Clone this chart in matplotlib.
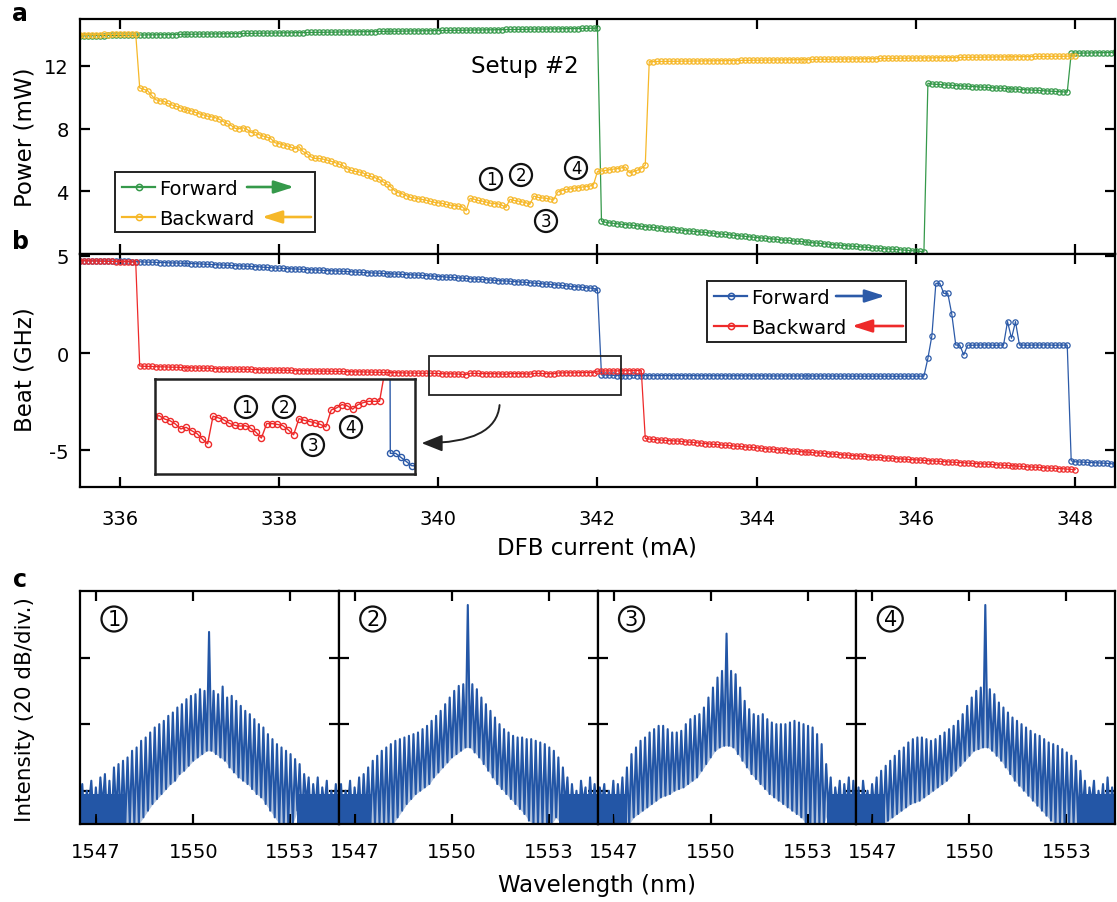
import numpy as np
import matplotlib
matplotlib.use('Agg')
import matplotlib.pyplot as plt
from matplotlib.patches import Rectangle, FancyArrowPatch
from matplotlib.lines import Line2D

plt.rcParams['font.family'] = ['DejaVu Sans']
plt.rcParams['font.size'] = 14

# ------------------------------------------------------------------ data
STEP = 0.05  # DFB current step (mA)

# (a) Forward optical power (mW)
pf_starts = [335.5, 342.05, 346.15, 347.95]
pf_vals = [
    [13.92, 13.92, 13.93, 13.93, 13.94, 13.94, 13.94, 13.95, 13.95, 13.95,
     13.96, 13.96, 13.97, 13.97, 13.97, 13.98, 13.98, 13.99, 13.99, 13.99,
     14.00, 14.00, 14.00, 14.01, 14.01, 14.02, 14.02, 14.02, 14.03, 14.03,
     14.04, 14.04, 14.04, 14.05, 14.05, 14.05, 14.06, 14.06, 14.07, 14.07,
     14.07, 14.08, 14.08, 14.08, 14.09, 14.09, 14.10, 14.10, 14.10, 14.11,
     14.11, 14.12, 14.12, 14.12, 14.13, 14.13, 14.13, 14.14, 14.14, 14.15,
     14.15, 14.15, 14.16, 14.16, 14.16, 14.17, 14.17, 14.18, 14.18, 14.18,
     14.19, 14.19, 14.19, 14.20, 14.20, 14.21, 14.21, 14.21, 14.22, 14.22,
     14.22, 14.23, 14.23, 14.24, 14.24, 14.24, 14.25, 14.25, 14.25, 14.26,
     14.26, 14.27, 14.27, 14.27, 14.28, 14.28, 14.28, 14.29, 14.29, 14.30,
     14.30, 14.30, 14.31, 14.31, 14.31, 14.32, 14.32, 14.33, 14.33, 14.33,
     14.34, 14.34, 14.34, 14.35, 14.35, 14.36, 14.36, 14.36, 14.37, 14.37,
     14.37, 14.38, 14.38, 14.39, 14.39, 14.39, 14.40, 14.40, 14.41, 14.41,
     14.42],
    [2.10, 2.03, 1.99, 1.96, 1.93, 1.90, 1.88, 1.85, 1.83, 1.80,
     1.77, 1.75, 1.72, 1.70, 1.67, 1.65, 1.62, 1.60, 1.58, 1.55,
     1.53, 1.50, 1.48, 1.45, 1.43, 1.40, 1.38, 1.35, 1.33, 1.30,
     1.28, 1.25, 1.23, 1.20, 1.18, 1.15, 1.13, 1.10, 1.08, 1.05,
     1.03, 1.01, 0.98, 0.96, 0.94, 0.91, 0.89, 0.87, 0.84, 0.82,
     0.80, 0.77, 0.75, 0.72, 0.70, 0.68, 0.65, 0.63, 0.60, 0.58,
     0.56, 0.54, 0.52, 0.50, 0.48, 0.46, 0.44, 0.42, 0.40, 0.38,
     0.36, 0.34, 0.33, 0.31, 0.29, 0.27, 0.25, 0.23, 0.21, 0.19,
     0.17, 0.15],
    [10.90, 10.85, 10.83, 10.82, 10.80, 10.78, 10.77, 10.75, 10.74, 10.72,
     10.71, 10.69, 10.68, 10.66, 10.65, 10.63, 10.62, 10.60, 10.59, 10.57,
     10.56, 10.54, 10.53, 10.51, 10.50, 10.48, 10.47, 10.45, 10.44, 10.42,
     10.41, 10.39, 10.38, 10.36, 10.35, 10.33],
    [12.80, 12.82, 12.82, 12.83, 12.83, 12.84, 12.84, 12.85, 12.85, 12.86,
     12.86, 12.87],
]

# (a) Backward optical power (mW)
pb_starts = [335.5, 336.25, 340.4, 342.0, 342.65]
pb_vals = [
    [14.00, 14.00, 14.01, 14.00, 14.01, 14.01, 14.02, 14.01, 14.02, 14.02,
     14.03, 14.02, 14.03, 14.03, 14.03],
    [10.60, 10.52, 10.42, 10.12, 9.85, 9.78, 9.76, 9.62, 9.52, 9.45,
     9.35, 9.26, 9.18, 9.14, 9.04, 8.95, 8.88, 8.80, 8.76, 8.70,
     8.60, 8.45, 8.33, 8.20, 8.02, 8.00, 8.06, 7.95, 7.75, 7.78,
     7.62, 7.53, 7.46, 7.35, 7.10, 7.05, 6.98, 6.90, 6.82, 6.72,
     6.85, 6.55, 6.40, 6.20, 6.10, 6.10, 6.06, 6.00, 5.93, 5.84,
     5.75, 5.65, 5.45, 5.35, 5.28, 5.24, 5.20, 5.02, 4.95, 4.88,
     4.78, 4.62, 4.48, 4.30, 4.05, 3.92, 3.84, 3.72, 3.62, 3.57,
     3.53, 3.48, 3.43, 3.37, 3.30, 3.27, 3.23, 3.16, 3.12, 3.09,
     3.05, 3.02, 2.76],
    [3.55, 3.50, 3.42, 3.38, 3.32, 3.25, 3.22, 3.20, 3.12, 2.97,
     3.49, 3.42, 3.38, 3.33, 3.28, 3.17,
     3.70, 3.62, 3.58, 3.56, 3.52, 3.47,
     3.96, 4.05, 4.12, 4.15, 4.20, 4.23, 4.27, 4.30, 4.33, 4.43],
    [5.27, 5.30, 5.33, 5.38, 5.42, 5.45, 5.50, 5.55, 5.19, 5.25, 5.35, 5.45, 5.68],
    [12.28, 12.28, 12.29, 12.29, 12.29, 12.30, 12.30, 12.30, 12.31, 12.31,
     12.31, 12.32, 12.32, 12.32, 12.33, 12.33, 12.33, 12.34, 12.34, 12.34,
     12.35, 12.35, 12.35, 12.36, 12.36, 12.36, 12.37, 12.37, 12.37, 12.38,
     12.38, 12.38, 12.39, 12.39, 12.39, 12.40, 12.40, 12.40, 12.41, 12.41,
     12.41, 12.42, 12.42, 12.43, 12.43, 12.43, 12.44, 12.44, 12.44, 12.45,
     12.45, 12.45, 12.46, 12.46, 12.46, 12.47, 12.47, 12.47, 12.48, 12.48,
     12.48, 12.49, 12.49, 12.50, 12.50, 12.50, 12.51, 12.51, 12.51, 12.52,
     12.52, 12.52, 12.53, 12.53, 12.53, 12.54, 12.54, 12.54, 12.55, 12.55,
     12.55, 12.56, 12.56, 12.56, 12.57, 12.57, 12.57, 12.58, 12.58, 12.58,
     12.59, 12.59, 12.59, 12.60, 12.60, 12.60, 12.60, 12.61, 12.61, 12.61,
     12.61, 12.62, 12.62, 12.62, 12.62, 12.63, 12.63, 12.63],
]

# (b) Forward beat note (GHz)
bf_starts = [335.5, 342.05, 346.15, 347.95]
bf_vals = [
    [4.76, 4.76, 4.75, 4.75, 4.75, 4.74, 4.74, 4.74, 4.73, 4.73, 4.73,
     4.72, 4.72, 4.71, 4.71, 4.70, 4.69, 4.68, 4.68, 4.67, 4.66,
     4.66, 4.65, 4.64, 4.64, 4.63, 4.62, 4.62, 4.61, 4.60, 4.59,
     4.58, 4.57, 4.56, 4.55, 4.54, 4.53, 4.52, 4.51, 4.50, 4.49,
     4.48, 4.47, 4.46, 4.45, 4.44, 4.42, 4.41, 4.40, 4.38, 4.37,
     4.36, 4.35, 4.34, 4.33, 4.32, 4.31, 4.30, 4.29, 4.28, 4.27,
     4.26, 4.25, 4.24, 4.23, 4.22, 4.21, 4.20, 4.19, 4.17, 4.16,
     4.15, 4.14, 4.13, 4.12, 4.11, 4.10, 4.09, 4.08, 4.07, 4.06,
     4.05, 4.04, 4.03, 4.02, 4.01, 4.00, 3.99, 3.97, 3.96, 3.94,
     3.93, 3.91, 3.90, 3.89, 3.87, 3.86, 3.84, 3.83, 3.82, 3.80,
     3.79, 3.78, 3.76, 3.75, 3.73, 3.72, 3.71, 3.70, 3.68, 3.67,
     3.65, 3.64, 3.62, 3.60, 3.59, 3.57, 3.55, 3.54, 3.52, 3.50,
     3.48, 3.46, 3.44, 3.42, 3.41, 3.39, 3.37, 3.35, 3.33, 3.25],
    [-1.13, -1.13, -1.14, -1.15, -1.16,
     -1.16, -1.16, -1.16, -1.15, -1.16, -1.16, -1.16, -1.16, -1.17, -1.16,
     -1.16, -1.16, -1.16, -1.17, -1.16, -1.16, -1.17, -1.17, -1.16, -1.17,
     -1.17, -1.17, -1.17, -1.17, -1.17, -1.17, -1.17, -1.18, -1.17, -1.17,
     -1.17, -1.18, -1.17, -1.18, -1.18, -1.17, -1.18, -1.18, -1.18, -1.18,
     -1.18, -1.18, -1.18, -1.18, -1.18, -1.18, -1.18, -1.18, -1.18, -1.19,
     -1.18, -1.18, -1.19, -1.18, -1.19, -1.19, -1.18, -1.19, -1.19, -1.19,
     -1.19, -1.19, -1.19, -1.19, -1.19, -1.19, -1.19, -1.19, -1.19, -1.20,
     -1.19, -1.19, -1.19, -1.19, -1.19, -1.19, -1.19],
    [-0.27, 0.89, 3.59, 3.59, 3.07, 3.07, 2.00, 0.41, 0.41, -0.10,
     0.41, 0.40, 0.41, 0.41, 0.42, 0.41, 0.41, 0.40, 0.41, 0.41,
     1.62, 0.76, 1.62,
     0.41, 0.41, 0.40, 0.41, 0.41, 0.41, 0.42, 0.41, 0.41, 0.40, 0.41, 0.41, 0.41],
    [-5.55, -5.60, -5.61, -5.62, -5.63, -5.64, -5.65, -5.66, -5.67, -5.68,
     -5.70, -5.72],
]

# (b) Backward beat note (GHz)
bb_starts = [335.5, 336.25, 339.9, 342.0, 342.6]
bb_vals = [
    [4.76, 4.75, 4.75, 4.74, 4.74, 4.73, 4.73, 4.72, 4.72, 4.71,
     4.71, 4.70, 4.70, 4.69, 4.67],
    [-0.67, -0.68, -0.69, -0.69, -0.70, -0.71, -0.71, -0.72, -0.73, -0.73,
     -0.74, -0.75, -0.75, -0.76, -0.77, -0.77, -0.78, -0.78, -0.79, -0.80,
     -0.80, -0.81, -0.81, -0.82, -0.82, -0.83, -0.83, -0.84, -0.84, -0.85,
     -0.85, -0.86, -0.86, -0.87, -0.87, -0.88, -0.88, -0.89, -0.89, -0.90,
     -0.90, -0.91, -0.91, -0.92, -0.92, -0.93, -0.93, -0.93, -0.94, -0.94,
     -0.95, -0.95, -0.96, -0.96, -0.97, -0.97, -0.97, -0.98, -0.98, -0.99,
     -0.99, -1.00, -1.00, -1.01, -1.01, -1.02, -1.02, -1.03, -1.03, -1.03,
     -1.04, -1.04, -1.04],
    [-1.039, -1.047, -1.051, -1.059, -1.071, -1.067, -1.075, -1.082, -1.095, -1.107,
     -1.040, -1.044, -1.049, -1.057, -1.062, -1.064, -1.063, -1.069, -1.079, -1.093,
     -1.058, -1.058, -1.060, -1.063, -1.073, -1.085,
     -1.046, -1.050, -1.053, -1.056, -1.060, -1.066,
     -1.025, -1.020, -1.012, -1.015, -1.023, -1.012, -1.007, -1.004, -1.004, -1.004],
    [-0.93, -0.93, -0.92, -0.92, -0.92, -0.92, -0.91, -0.91, -0.91, -0.91,
     -0.90, -0.90],
    [-4.40, -4.43, -4.45, -4.46, -4.48, -4.50, -4.51, -4.52, -4.53,
     -4.55, -4.57, -4.59, -4.60, -4.62, -4.64, -4.66, -4.68, -4.70, -4.71,
     -4.73, -4.75, -4.76, -4.78, -4.80, -4.81, -4.83, -4.85, -4.86, -4.88,
     -4.90, -4.92, -4.94, -4.95, -4.97, -4.99, -5.01, -5.03, -5.04, -5.06,
     -5.08, -5.09, -5.11, -5.12, -5.14, -5.15, -5.17, -5.18, -5.20, -5.22,
     -5.23, -5.25, -5.26, -5.28, -5.29, -5.31, -5.32, -5.34, -5.35, -5.37,
     -5.38, -5.40, -5.41, -5.42, -5.44, -5.45, -5.46, -5.48, -5.49, -5.50,
     -5.51, -5.53, -5.54, -5.55, -5.57, -5.58, -5.59, -5.60, -5.62, -5.63,
     -5.64, -5.65, -5.67, -5.68, -5.69, -5.70, -5.71, -5.73, -5.74, -5.75,
     -5.76, -5.78, -5.79, -5.80, -5.82, -5.83, -5.84, -5.86, -5.87, -5.88,
     -5.89, -5.90, -5.92, -5.93, -5.94, -5.95, -5.96, -5.98, -5.99, -6.00],
]

# (c) Optical spectra: comb-line peaks and inter-line minima (dB)
comb_start, comb_step = 1546.57, 0.14
peaks = [
    [-58, -60, -57, -59, -56, -55, -57, -53, -52, -51, -50, -48, -47, -45, -44,
     -42.5, -41, -40, -39, -37.5, -36.5, -35, -34, -32.5, -31.5, -31, -29.5, -30,
     -12.3, -30, -31, -28.7, -32, -31.5, -33, -34.5, -36, -37, -38.5, -40, -41,
     -43, -44.5, -46, -47, -48, -49, -50.5, -52, -55, -56, -58, -56, -59, -57,
     -60, -58],
    [-58, -60, -57, -59, -56, -55, -53, -51, -49.5, -48, -47, -46, -45, -44.5,
     -44, -43.5, -43, -42.5, -41.5, -40.5, -39, -37.5, -36, -34, -32, -30, -28.5,
     -28, -4.2, -28, -29.5, -32, -34, -36, -38, -40, -41.5, -42.5, -43.5, -44,
     -44, -44.5, -44.5, -45, -45.5, -46, -47, -48, -50, -53, -56, -58, -60, -57,
     -59, -56, -58],
    [-59, -58, -60, -57, -58, -56, -53, -49, -47, -45, -44, -42.5, -41.5, -40.5,
     -40.5, -41.5, -42.5, -42.5, -42, -40, -38.5, -37.5, -37, -35, -32, -29, -26,
     -24, -12.8, -24, -25, -29, -33, -35.5, -37, -37.5, -37, -38.5, -39.5, -40,
     -40, -40, -39.5, -39, -39.5, -40, -40.5, -41, -43, -46, -52, -56, -59, -57,
     -58, -56, -57],
    [-59, -57, -60, -58, -56, -54, -52.5, -51, -49.5, -48, -47, -45.5, -44.5, -44,
     -44, -44.5, -45, -44.5, -43.5, -42.5, -41.5, -40.5, -39, -37, -34.5, -32,
     -30, -29, -4.2, -29.5, -31, -33.5, -35, -36.5, -38, -39, -40, -41, -42, -43,
     -43.5, -44.5, -45.5, -46, -46.5, -47.5, -48.5, -49.5, -51, -54, -57, -59,
     -57, -60, -58, -56, -59],
]
troughs = [
    [-66, -70, -64, -70, -68, -65, -70, -70, -67, -70, -70, -70, -70, -70, -68,
     -66, -64, -62.5, -61, -59.5, -58, -57, -55, -54, -52.5, -51, -50, -49, -48,
     -48, -49, -50, -51, -53, -54.5, -56, -57, -58, -59.5, -61, -62, -64, -66,
     -68, -70, -70, -70, -70, -66, -70, -64, -70, -66, -70, -65, -70, -67],
    [-67, -70, -65, -70, -66, -70, -68, -70, -70, -70, -70, -70, -70, -68, -66,
     -64, -62.5, -61, -60, -59, -58, -56, -54.5, -53, -51.5, -50, -49, -48, -47,
     -47, -48.5, -50, -52, -54, -56, -58, -59.5, -61, -62.5, -64, -65.5, -67,
     -69, -70, -70, -70, -70, -70, -68, -70, -65, -70, -66, -70, -64, -70, -67],
    [-70, -64, -70, -66, -70, -67, -70, -70, -68, -67, -66, -65, -64, -63, -62,
     -61.5, -61, -60, -59.5, -59, -58, -57, -56, -54, -52, -50, -48, -47, -46.5,
     -46.5, -47, -49, -51, -53, -55, -56.5, -58, -59.5, -61, -62, -63, -64, -65,
     -66, -67, -68, -70, -70, -70, -70, -70, -66, -70, -65, -70, -66, -70],
    [-68, -70, -64, -70, -66, -70, -70, -69, -68, -67, -66, -65, -64, -63.5, -63,
     -62, -61, -60, -59, -58, -57, -55.5, -54, -52.5, -51, -49.5, -48, -47.5,
     -47, -47, -48, -49.5, -51, -53, -55, -57, -58.5, -60, -61.5, -63, -64.5,
     -66, -67.5, -69, -70, -70, -70, -70, -70, -70, -66, -70, -64, -70, -66, -70,
     -67],
]
noise_left_end = [1547.9, 1547.5, 1547.4, 1547.4]
noise_right_start = [1553.2, 1553.3, 1553.6, 1553.4]
noise_level = [-61, -61, -61, -61]
panel_tags = ['1', '2', '3', '4']

# ------------------------------------------------------------------ style
C_GREEN = '#35994a'
C_YELLOW = '#f6b829'
C_BLUE = '#2c5aa8'
C_RED = '#ee2a2a'
C_SPEC = '#2356a6'

W, H = 1117, 903
fig = plt.figure(figsize=(W / 100, H / 100), dpi=100)


def axes_px(l, t, r, b):
    return fig.add_axes([l / W, 1 - b / H, (r - l) / W, (b - t) / H])


def fpt(x, y):
    return (x / W, 1 - y / H)


def style(ax, lw=1.6, length=7):
    for s in ax.spines.values():
        s.set_linewidth(lw)
    ax.tick_params(direction='in', length=length, width=lw, top=True,
                   right=True, labelsize=14, pad=8)


def build(starts, segs):
    xs = np.concatenate([s + STEP * np.arange(len(v)) for s, v in zip(starts, segs)])
    ys = np.concatenate([np.asarray(v, float) for v in segs])
    return xs, ys


mk = dict(marker='o', mfc='none', ms=3.8, mew=0.9, lw=0.9)

# ---------------- panel a
ax_a = axes_px(80, 20, 1115, 255)
style(ax_a)
x, y = build(pf_starts, pf_vals)
ax_a.plot(x, y, color=C_GREEN, **mk)
x, y = build(pb_starts, pb_vals)
ax_a.plot(x, y, color=C_YELLOW, **mk)
ax_a.set_xlim(335.5, 348.5)
ax_a.set_ylim(0, 15)
ax_a.set_xticks(np.arange(336, 349, 2))
ax_a.set_xticklabels([])
ax_a.set_yticks([4, 8, 12])
ax_a.text(0.43, 0.80, 'Setup #2', transform=ax_a.transAxes, fontsize=16.5,
          ha='center', va='center')

# ---------------- panel b
ax_b = axes_px(80, 255, 1115, 488)
style(ax_b)
ax_b.tick_params(axis='x', pad=16)
x, y = build(bf_starts, bf_vals)
ax_b.plot(x, y, color=C_BLUE, **mk)
x, y = build(bb_starts, bb_vals)
ax_b.plot(x, y, color=C_RED, **mk)
ax_b.set_xlim(335.5, 348.5)
ax_b.set_ylim(-6.9, 5.1)
ax_b.set_xticks(np.arange(336, 349, 2))
ax_b.set_yticks([-5, 0, 5])
ax_b.set_yticklabels(['-5', '0', '5'])
ax_b.add_patch(Rectangle((339.88, -2.16), 2.42, 2.02, fill=False, lw=1.3,
                         ec='#222222', zorder=5))
ax_b.annotate('', xy=(339.79, -4.64), xytext=(340.77, -2.68),
              arrowprops=dict(arrowstyle='-|>,head_length=0.7,head_width=0.28',
                              connectionstyle='angle3,angleA=-95,angleB=0',
                              lw=1.4, color='#222222', mutation_scale=18,
                              shrinkA=0, shrinkB=0))

# inset
ax_in = axes_px(155, 380, 415, 475)
for s in ax_in.spines.values():
    s.set_linewidth(1.8)
    s.set_color('#222222')
ax_in.set_facecolor('white')
mk_in = dict(marker='o', mfc='none', ms=4.4, mew=1.0, lw=1.0)
x, y = build(bf_starts, bf_vals)
ax_in.plot(x, y, color=C_BLUE, **mk_in)
x, y = build(bb_starts, bb_vals)
ax_in.plot(x, y, color=C_RED, **mk_in)
ax_in.set_xlim(339.86, 342.28)
ax_in.set_ylim(-1.18, -0.95)
ax_in.set_xticks([])
ax_in.set_yticks([])


# ---------------- circled markers
def circ(xp, yp, t, fs=12):
    fig.text(*fpt(xp, yp), t, fontsize=fs, ha='center', va='center',
             bbox=dict(boxstyle='circle,pad=0.12', fc='none', ec='#111111', lw=1.6))


for (xp, yp), t in zip([(491, 180), (521, 176), (546, 222), (576, 169)], panel_tags):
    circ(xp, yp, t)
for (xp, yp), t in zip([(246, 408), (284, 408), (313, 446), (351, 428)], panel_tags):
    circ(xp, yp, t)


# ---------------- legends (drawn manually)
def legend_box(l, t, r, b, rows):
    fig.patches.append(Rectangle(fpt(l, b), (r - l) / W, (b - t) / H, fill=False,
                                 lw=1.4, ec='#222222', transform=fig.transFigure,
                                 figure=fig))
    for (yp, col, label, a0, a1) in rows:
        fig.lines.append(Line2D([(l + 7) / W, (l + 40) / W], [1 - yp / H] * 2,
                                color=col, lw=1.6, transform=fig.transFigure,
                                figure=fig))
        fig.lines.append(Line2D([(l + 23.5) / W], [1 - yp / H], color=col,
                                marker='o', mfc='none', ms=4.5, mew=1.1,
                                transform=fig.transFigure, figure=fig))
        fig.text((l + 44) / W, 1 - yp / H, label, fontsize=14, ha='left',
                 va='center_baseline')
        fig.patches.append(FancyArrowPatch(
            fpt(a0, yp), fpt(a1, yp), transform=fig.transFigure,
            arrowstyle='-|>,head_length=0.75,head_width=0.24', mutation_scale=16,
            lw=1.9, color=col, shrinkA=0, shrinkB=0, figure=fig))


legend_box(115, 173, 315, 233, [(188, C_GREEN, 'Forward', 247, 294),
                                (218, C_YELLOW, 'Backward', 311, 262)])
legend_box(707, 282, 906, 343, [(297, C_BLUE, 'Forward', 836, 885),
                                (327, C_RED, 'Backward', 903, 852)])

# ---------------- panel c
lefts = [80, 338.75, 597.5, 856.25]
for i in range(4):
    ax = axes_px(lefts[i], 592, lefts[i] + 258.75, 825)
    style(ax)
    ax.tick_params(axis='x', pad=13)
    wl = comb_start + comb_step * np.arange(len(peaks[i]))
    n = len(wl)
    xs = np.empty(2 * n + 1)
    ys = np.empty(2 * n + 1)
    xs[0:-1:2] = wl - comb_step / 2
    xs[1::2] = wl
    xs[-1] = wl[-1] + comb_step / 2
    ys[0:-1:2] = troughs[i]
    ys[1::2] = peaks[i]
    ys[-1] = troughs[i][-1]
    floor_env = np.interp(xs, xs[0::2], ys[0::2])
    ax.fill_between([1546.4, noise_left_end[i]], -72, noise_level[i],
                    color=C_SPEC, lw=0)
    ax.fill_between([noise_right_start[i], 1554.6], -72, noise_level[i],
                    color=C_SPEC, lw=0)
    ax.fill_between(xs, floor_env, ys, color=C_SPEC, alpha=0.35, lw=0)
    ax.plot(xs, ys, color=C_SPEC, lw=1.5)
    ax.set_xlim(1546.5, 1554.5)
    ax.set_ylim(-70, 0)
    ax.set_xticks([1547, 1550, 1553])
    ax.set_yticks([-60, -40, -20])
    ax.set_yticklabels([])
    circ(lefts[i] + 34, 620, panel_tags[i], fs=15)

# ---------------- labels
fig.text(*fpt(20, 14), 'a', fontsize=17, fontweight='bold', ha='center', va='center')
fig.text(*fpt(20, 242), 'b', fontsize=17, fontweight='bold', ha='center', va='center')
fig.text(*fpt(20, 580), 'c', fontsize=17, fontweight='bold', ha='center', va='center')
fig.text(*fpt(25, 137), 'Power (mW)', rotation=90, fontsize=16.5, ha='center', va='center')
fig.text(*fpt(25, 370), 'Beat (GHz)', rotation=90, fontsize=16.5, ha='center', va='center')
fig.text(*fpt(25, 710), 'Intensity (20 dB/div.)', rotation=90, fontsize=15.5,
         ha='center', va='center')
fig.text(*fpt(597, 548), 'DFB current (mA)', fontsize=16.5, ha='center', va='center')
fig.text(*fpt(597, 886), 'Wavelength (nm)', fontsize=16.5, ha='center', va='center')

fig.savefig('out.png', dpi=100)
